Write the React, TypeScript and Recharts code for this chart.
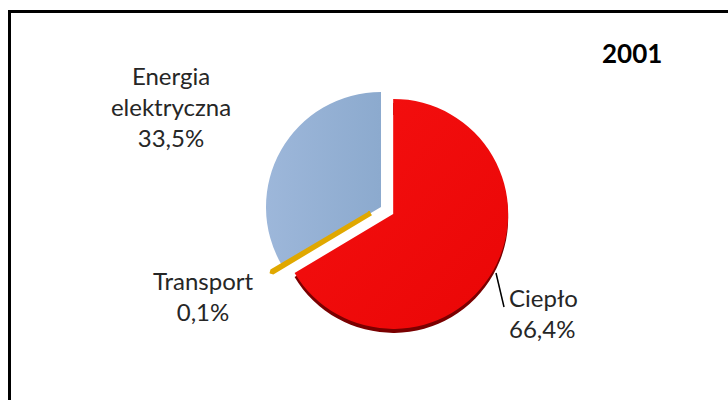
import React from 'react';
import { PieChart, Pie, Cell } from 'recharts';

const categories = ['Ciepło', 'Transport', 'Energia elektryczna'];
const shares = [66.4, 0.1, 33.5];
const shareLabels = ['66,4%', '0,1%', '33,5%'];
const yearTitle = '2001';

const data = categories.map((name, i) => ({ name, value: shares[i] }));

const W = 728;
const H = 400;
const CX = 381;
const CY = 207;
const R = 115;
const explode = [14, 12, 0];
const fills = ['url(#gradRed)', '#e0a800', 'url(#gradBlue)'];
const FONT = 'Lato, "Open Sans", sans-serif';
const TEXT = '#262626';

const total = shares.reduce((a, b) => a + b, 0);

function centerFor(i: number): [number, number] {
  const before = shares.slice(0, i).reduce((a, b) => a + b, 0);
  const mid = 90 - ((before + shares[i] / 2) / total) * 360;
  const rad = (mid * Math.PI) / 180;
  return [CX + explode[i] * Math.cos(rad), CY - explode[i] * Math.sin(rad)];
}

const renderLabel = (props: any) => {
  const idx = props.index;
  const common = { fontFamily: FONT, fontSize: 24, fill: TEXT } as any;
  if (idx === 0) {
    return (
      <g key="l0">
        <line x1={496} y1={273} x2={504} y2={307} stroke="#000" strokeWidth={1.5} />
        <text x={509} y={307} textAnchor="start" {...common}>Ciepło</text>
        <text x={509} y={338} textAnchor="start" {...common}>{shareLabels[0]}</text>
      </g>
    );
  }
  if (idx === 1) {
    return (
      <g key="l1">
        <text x={203} y={290} textAnchor="middle" {...common}>Transport</text>
        <text x={203} y={321} textAnchor="middle" {...common}>{shareLabels[1]}</text>
      </g>
    );
  }
  return (
    <g key="l2">
      <text x={171} y={85} textAnchor="middle" {...common}>Energia</text>
      <text x={171} y={116} textAnchor="middle" {...common}>elektryczna</text>
      <text x={171} y={147} textAnchor="middle" {...common}>{shareLabels[2]}</text>
    </g>
  );
};

function SlicePie({ k, shadow, label }: { k: number; shadow?: boolean; label?: boolean }) {
  const [cx, cy] = centerFor(k);
  return (
    <Pie
      data={data}
      dataKey="value"
      nameKey="name"
      cx={cx}
      cy={shadow ? cy + 4 : cy}
      outerRadius={R}
      innerRadius={shadow ? R - 12 : 0}
      startAngle={90}
      endAngle={-270}
      isAnimationActive={false}
      stroke="none"
      label={label ? renderLabel : false}
      labelLine={false}
      legendType="none"
    >
      {data.map((d, i) => (
        <Cell
          key={d.name}
          fill={i === k ? (shadow ? '#7a0000' : fills[i]) : 'none'}
          stroke={i === k && k === 1 ? '#e0a800' : 'none'}
          strokeWidth={i === k && k === 1 ? 5 : 0}
          strokeLinejoin="bevel"
        />
      ))}
    </Pie>
  );
}

export default function App() {
  return (
    <div style={{ position: 'fixed', left: 0, top: 0, width: W, height: H, overflow: 'hidden', background: '#fff' }}>
      <div
        style={{
          position: 'absolute',
          left: 8,
          top: 10,
          width: 900,
          height: 600,
          border: '3px solid #000',
          boxSizing: 'border-box',
        }}
      />
      <div style={{ position: 'absolute', left: 0, top: 0 }}>
        <PieChart width={W} height={H} margin={{ top: 0, right: 0, bottom: 0, left: 0 }}>
          <defs>
            <linearGradient id="gradRed" x1="0" y1="0" x2="1" y2="1">
              <stop offset="0%" stopColor="#f51010" />
              <stop offset="100%" stopColor="#ea0606" />
            </linearGradient>
            <linearGradient id="gradBlue" x1="0" y1="0" x2="1" y2="0">
              <stop offset="0%" stopColor="#9db7da" />
              <stop offset="100%" stopColor="#8caace" />
            </linearGradient>
          </defs>
          {SlicePie({ k: 0, shadow: true })}
          {SlicePie({ k: 2 })}
          {SlicePie({ k: 1 })}
          {SlicePie({ k: 0, label: true })}
          <text x={602} y={63} fontFamily={FONT} fontSize={26} fontWeight="bold" fill="#000">
            {yearTitle}
          </text>
        </PieChart>
      </div>
    </div>
  );
}
